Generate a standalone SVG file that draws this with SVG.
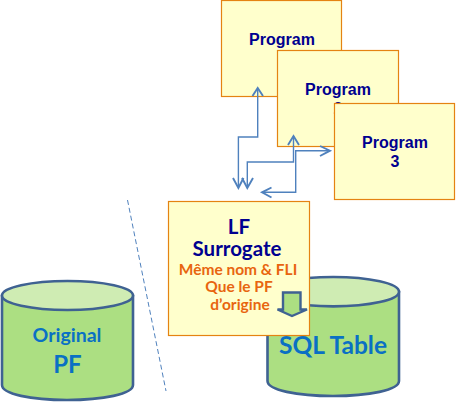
<svg xmlns="http://www.w3.org/2000/svg" width="456" height="402" viewBox="0 0 456 402">
<style>
.box{fill:#ffffcc;stroke:#e48312;stroke-width:1.2}
.prog{font:bold 16px "Liberation Sans",sans-serif;fill:#000090;text-anchor:middle}
.lf{font:bold 20.500px "Lato",sans-serif;fill:#000090;text-anchor:middle}
.or{font:bold 15.500px "Lato",sans-serif;fill:#e8650f;text-anchor:middle}
.cyl{fill:#acdf82;stroke:#3f6292;stroke-width:2.6}
.top{fill:#cfecb3;stroke:#3f6292;stroke-width:2.6}
.blue{font-family:"Lato",sans-serif;font-weight:bold;fill:#0a70c4;text-anchor:middle}
.c{fill:none;stroke:#4f81bd;stroke-width:1.4}
.h{fill:none;stroke:#4f81bd;stroke-width:1.9}
</style>
<g id="original-pf">
<path class="cyl" d="M2 296V385C2 394 31 400 67 400S133 394 133 385V296Z"/>
<ellipse class="top" cx="67.500" cy="295.500" rx="65.500" ry="14.500"/>
<text class="blue" x="67" y="342" font-size="19.500">Original</text>
<text class="blue" x="67.500" y="373" font-size="24">PF</text>
</g>
<g id="sql-table">
<path class="cyl" d="M267.500 292V381C267.500 390 297 396 333 396S399 390 399 381V292Z"/>
<ellipse class="top" cx="333.300" cy="291.700" rx="65.700" ry="14.700"/>
<text class="blue" x="333" y="354" font-size="24.500">SQL Table</text>
</g>
<g id="divider"><line x1="127.500" y1="200" x2="166" y2="391" stroke="#4f81bd" stroke-width="1" stroke-dasharray="5 3"/></g>
<g id="program-1">
<rect class="box" x="221.500" y="0.500" width="120" height="96"/>
<text class="prog" x="282" y="44.500">Program</text>
</g>
<g id="program-2">
<rect class="box" x="277.500" y="50.500" width="121" height="96"/>
<text class="prog" x="338" y="94.500">Program</text>
<text class="prog" x="338" y="114">2</text>
</g>
<g id="program-3">
<rect class="box" x="334.500" y="103.500" width="120" height="96"/>
<text class="prog" x="395" y="147.500">Program</text>
<text class="prog" x="395" y="166.500">3</text>
</g>
<g id="lf-surrogate">
<rect class="box" x="168.500" y="201.500" width="141" height="134"/>
<text class="lf" x="239" y="234">LF</text>
<text class="lf" x="237" y="256">Surrogate</text>
<text class="or" x="238" y="275">Même nom &amp; FLI</text>
<text class="or" x="239" y="292">Que le PF</text>
<text class="or" x="240" y="310">d’origine</text>
</g>
<g id="down-arrow">
<path d="M283 292.500H300.500V309.500H307L292 316L277.500 309.500H283Z" fill="#acdf82" stroke="#3f6292" stroke-width="2.400"/>
</g>
<g id="connectors">
<path class="c" d="M257.700 89V137H238.400V187"/>
<path class="h" d="M252.500 96L257.700 88L263 96"/>
<path class="h" d="M233 178L238.400 188L243.500 178"/>
<path class="c" d="M293.500 136V162H247.300V187"/>
<path class="h" d="M288 145L293.500 136L299 145"/>
<path class="h" d="M242 178L247.300 188L253 178"/>
<path class="c" d="M329 150.700H295.700V192.300H262"/>
<path class="h" d="M320 146L330 150.700L320 156"/>
<path class="h" d="M271.500 187.500L262 192.300L271.500 197.500"/>
</g>
</svg>
